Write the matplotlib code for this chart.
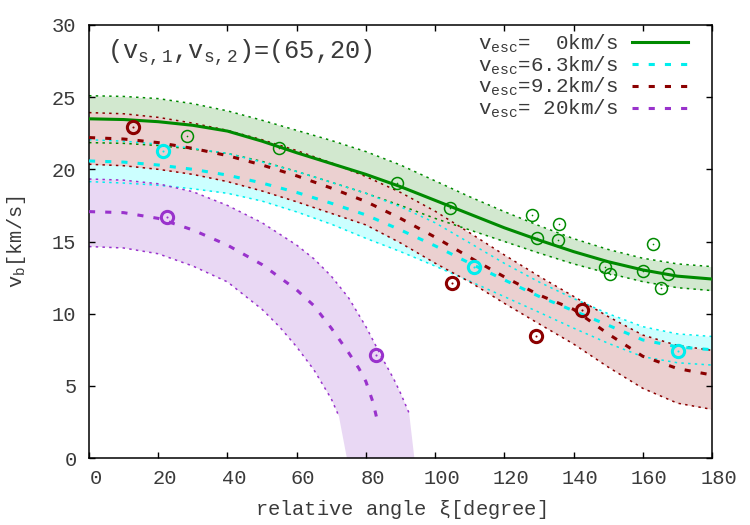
import numpy as np
import matplotlib
matplotlib.use('Agg')
import matplotlib.pyplot as plt
import matplotlib.transforms as mtransforms

plt.rcParams['font.family'] = ['Liberation Mono', 'DejaVu Sans']
plt.rcParams['mathtext.fontset'] = 'custom'
plt.rcParams['mathtext.rm'] = 'Liberation Mono'
plt.rcParams['mathtext.it'] = 'Liberation Mono'
plt.rcParams['mathtext.bf'] = 'Liberation Mono'

# ---------------- data ----------------
ang = [0, 10, 20, 30, 40, 50, 60, 70, 80, 90, 100, 110, 120, 130, 140, 150, 160, 170, 180]

green_mid = [23.5, 23.45, 23.3, 23.05, 22.65, 21.95, 21.15, 20.4, 19.65, 18.8, 17.85, 16.9, 15.95, 15.1, 14.3, 13.6, 13.03, 12.6, 12.4]
green_up = [25.1, 25.05, 24.9, 24.55, 24.05, 23.4, 22.7, 22.0, 21.23, 20.3, 19.2, 18.1, 17.07, 16.1, 15.2, 14.45, 13.84, 13.45, 13.26]
green_lo = [21.85, 21.8, 21.65, 21.4, 21.1, 20.55, 19.85, 19.1, 18.34, 17.5, 16.6, 15.8, 15.0, 14.2, 13.45, 12.8, 12.22, 11.8, 11.6]

cyan_mid = [20.58, 20.5, 20.3, 20.0, 19.6, 19.05, 18.4, 17.65, 16.84, 15.8, 14.7, 13.5, 12.34, 11.2, 10.2, 9.2, 8.18, 7.7, 7.5]
cyan_up = [22.05, 21.95, 21.75, 21.45, 21.1, 20.5, 19.85, 19.1, 18.34, 17.4, 16.3, 14.9, 13.49, 12.2, 11.05, 10.0, 9.1, 8.6, 8.42]
cyan_lo = [19.15, 19.05, 18.9, 18.65, 18.34, 17.8, 17.05, 16.2, 15.22, 14.3, 13.3, 12.25, 11.18, 10.1, 9.0, 7.95, 7.02, 6.6, 6.44]

red_mid = [22.2, 22.1, 21.85, 21.45, 20.95, 20.3, 19.55, 18.7, 17.77, 16.6, 15.3, 13.9, 12.55, 11.3, 10.3, 8.6, 7.05, 6.2, 5.75]
red_up = [23.93, 23.85, 23.6, 23.2, 22.7, 22.05, 21.3, 20.45, 19.5, 18.4, 17.1, 15.6, 14.07, 12.6, 11.2, 9.8, 8.52, 7.8, 7.46]
red_lo = [20.35, 20.25, 20.0, 19.65, 19.15, 18.5, 17.75, 16.95, 16.15, 14.9, 13.5, 12.2, 10.72, 9.3, 7.9, 6.3, 4.83, 3.8, 3.37]

purple_mid_ang = [0, 10, 20, 30, 40, 50, 60, 65, 70, 75, 78, 80, 82, 83.3]
purple_mid = [17.07, 17.0, 16.6, 15.8, 14.75, 13.4, 11.65, 10.55, 9.0, 7.3, 6.2, 5.3, 3.9, 2.6]
purple_up_ang = [0, 10, 20, 30, 40, 50, 60, 65, 70, 75, 80, 85, 88, 90, 92.5]
purple_up = [19.33, 19.25, 19.0, 18.45, 17.5, 16.3, 14.75, 13.8, 12.6, 11.1, 9.1, 6.8, 5.5, 4.5, 3.1]
purple_lo_ang = [0, 10, 20, 30, 40, 50, 55, 60, 65, 70, 72.2]
purple_lo = [14.65, 14.55, 14.15, 13.3, 12.2, 10.3, 9.1, 7.7, 6.1, 4.1, 2.9]
purple_fill_zero_ang = [74.5, 94.0]   # where the shaded band reaches v=0

green_pts_x = [28.2, 54.9, 88.9, 104.3, 128.1, 129.3, 135.8, 135.6, 162.9, 149.1, 150.5, 160.0, 167.4, 165.4]
green_pts_y = [22.34, 21.48, 19.03, 17.3, 16.84, 15.27, 16.19, 15.1, 14.83, 13.26, 12.75, 12.98, 12.73, 11.8]
cyan_pts_x = [21.3, 111.2, 170.3]
cyan_pts_y = [21.3, 13.26, 7.4]
red_pts_x = [12.8, 105.0, 129.2, 142.3]
red_pts_y = [22.9, 12.1, 8.48, 10.26]
purple_pts_x = [22.6, 82.8]
purple_pts_y = [16.72, 7.14]

labels = [r'v$_{\mathregular{esc}}$=  0km/s', r'v$_{\mathregular{esc}}$=6.3km/s',
          r'v$_{\mathregular{esc}}$=9.2km/s', r'v$_{\mathregular{esc}}$= 20km/s']
xticks = list(range(0, 181, 20))
yticks = list(range(0, 31, 5))

# ---------------- style ----------------
c_green, c_cyan, c_red, c_purple = '#008a00', '#00eeee', '#8b0000', '#9932cc'
f_green, f_cyan, f_red, f_purple = '#d2e8cf', '#ccffff', '#ebd0d0', '#e9d8f4'
txt = '#3a3a3a'
fs = 14.7

fig = plt.figure(figsize=(7.5, 5.25), dpi=100)
ax = fig.add_axes([0.1187, 0.1276, 0.8306, 0.8248])

# bands (opaque, drawn in order)
ax.fill_between(ang, green_lo, green_up, color=f_green, lw=0, zorder=1)
ax.fill_between(ang, cyan_lo, cyan_up, color=f_cyan, lw=0, zorder=1.1)
ax.fill_between(ang, red_lo, red_up, color=f_red, lw=0, zorder=1.2)
px = np.concatenate([purple_up_ang, purple_fill_zero_ang[::-1], purple_lo_ang[::-1]])
py = np.concatenate([purple_up, [0, 0], purple_lo[::-1]])
ax.fill(px, py, color=f_purple, lw=0, zorder=1.3)

dot = dict(lw=1.1, linestyle=(0, (1.6, 2.8)), dash_capstyle='butt', zorder=2)
for a, u, l, c in [(ang, green_up, green_lo, c_green), (ang, cyan_up, cyan_lo, c_cyan),
                   (ang, red_up, red_lo, c_red)]:
    ax.plot(a, u, color=c, **dot)
    ax.plot(a, l, color=c, **dot)
ax.plot(purple_up_ang, purple_up, color=c_purple, **dot)
ax.plot(purple_lo_ang, purple_lo, color=c_purple, **dot)

dash = dict(lw=2.2, linestyle=(0, (2.0, 3.3)), dash_capstyle='butt', zorder=3)
h0, = ax.plot(ang, green_mid, color=c_green, lw=2.2, zorder=3.5, label=labels[0])
h1, = ax.plot(ang, cyan_mid, color=c_cyan, label=labels[1], **dash)
h2, = ax.plot(ang, red_mid, color=c_red, label=labels[2], **dash)
h3, = ax.plot(purple_mid_ang, purple_mid, color=c_purple, label=labels[3], **dash)

# data points
ax.plot(green_pts_x, green_pts_y, 'o', mfc='none', mec=c_green, ms=8.6, mew=1.1, zorder=4)
ax.plot(green_pts_x, green_pts_y, 'o', color=c_green, ms=1.2, mew=0, zorder=4)
for xs, ys, c in [(cyan_pts_x, cyan_pts_y, c_cyan), (red_pts_x, red_pts_y, c_red),
                  (purple_pts_x, purple_pts_y, c_purple)]:
    ax.plot(xs, ys, 'o', mfc='none', mec=c, ms=8.8, mew=2.2, zorder=4)
    ax.plot(xs, ys, 'o', color=c, ms=1.5, mew=0, zorder=4)

ax.set_xlim(0, 180)
ax.set_ylim(0, 30)
ax.set_xticks(xticks)
ax.set_yticks(yticks)
ax.tick_params(direction='in', top=True, right=True, length=4.5, width=1.0,
               labelsize=fs, labelcolor=txt, pad=9)
ax.tick_params(axis='x', pad=8)
shift = mtransforms.ScaledTranslation(0.065, 0, fig.dpi_scale_trans)
for lab in ax.get_xticklabels():
    lab.set_transform(lab.get_transform() + shift)
for s in ax.spines.values():
    s.set_linewidth(1.1)

ax.set_xlabel(r'relative angle $\mathbf{\xi}$[degree]', fontsize=fs, color=txt, labelpad=7)
ax.set_ylabel(r'v$_{\mathregular{b}}$[km/s]', fontsize=fs, color=txt, labelpad=17)

ax.text(0.029, 0.937, r'(v$_{\mathregular{s,1}}$,v$_{\mathregular{s,2}}$)=(65,20)',
        transform=ax.transAxes, fontsize=18.3, color=txt, va='center', ha='left')

leg = ax.legend(handles=[h0, h1, h2, h3], loc='upper right', bbox_to_anchor=(0.962, 0.982),
                frameon=False, markerfirst=False, fontsize=15, handlelength=2.7,
                handletextpad=0.65, labelspacing=-0.03, borderpad=0, borderaxespad=0)
for t in leg.get_texts():
    t.set_color(txt)

fig.savefig('out.png', dpi=100)
